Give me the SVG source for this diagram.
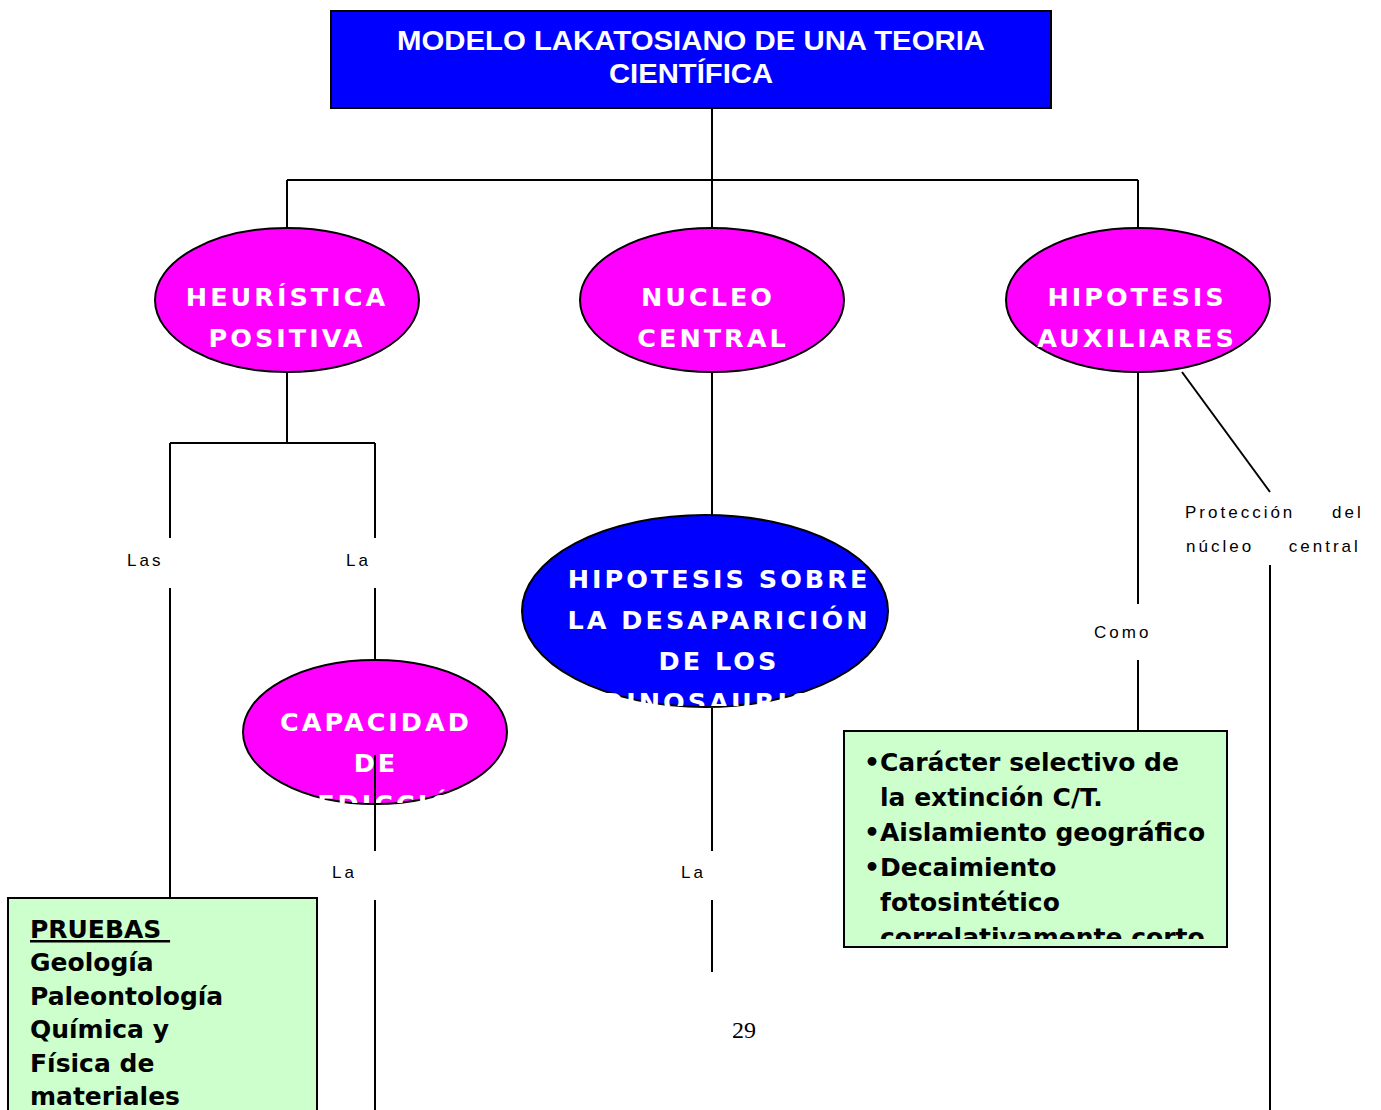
<svg xmlns="http://www.w3.org/2000/svg" width="1381" height="1110" viewBox="0 0 1381 1110">
<style>
.ln{stroke:#000;stroke-width:2;fill:none}
.pink{fill:#FF00FF;stroke:#000;stroke-width:2}
.blue{fill:#0000FF;stroke:#000;stroke-width:2}
.green{fill:#CCFFCC;stroke:#000;stroke-width:2}
.et{font-family:"DejaVu Sans",sans-serif;font-weight:bold;font-size:25.5px;fill:#fff;letter-spacing:3px;text-anchor:middle}
.lbl{font-family:"Liberation Sans",Arial,sans-serif;font-size:17px;fill:#000;letter-spacing:3px}
.gt{font-family:"DejaVu Sans",sans-serif;font-weight:bold;font-size:25px;fill:#000}
.tt{font-family:"Liberation Sans",Arial,sans-serif;font-weight:bold;font-size:28px;fill:#fff;text-anchor:middle}
</style>
<defs>
<clipPath id="clipDino"><rect x="500" y="510" width="400" height="196"/></clipPath>
<clipPath id="clipCap"><rect x="230" y="655" width="290" height="148"/></clipPath>
<clipPath id="clipCar"><rect x="845" y="732" width="381" height="207"/></clipPath>
</defs>
<rect width="1381" height="1110" fill="#fff"/>
<g id="connectors">
<line class="ln" x1="712" y1="108" x2="712" y2="180"/>
<line class="ln" x1="287" y1="180" x2="1138" y2="180"/>
<line class="ln" x1="287" y1="180" x2="287" y2="228"/>
<line class="ln" x1="712" y1="180" x2="712" y2="228"/>
<line class="ln" x1="1138" y1="180" x2="1138" y2="228"/>
<line class="ln" x1="287" y1="372" x2="287" y2="443"/>
<line class="ln" x1="170" y1="443" x2="375" y2="443"/>
<line class="ln" x1="170" y1="443" x2="170" y2="538"/>
<line class="ln" x1="375" y1="443" x2="375" y2="538"/>
<line class="ln" x1="170" y1="588" x2="170" y2="898"/>
<line class="ln" x1="375" y1="588" x2="375" y2="660"/>
<line class="ln" x1="712" y1="372" x2="712" y2="516"/>
<line class="ln" x1="1138" y1="372" x2="1138" y2="604"/>
<line class="ln" x1="1138" y1="660" x2="1138" y2="731"/>
<line class="ln" x1="1182" y1="372" x2="1270" y2="492"/>
<line class="ln" x1="1270" y1="565" x2="1270" y2="1110"/>
<line class="ln" x1="712" y1="708" x2="712" y2="851"/>
<line class="ln" x1="712" y1="900" x2="712" y2="972"/>
<line class="ln" x1="375" y1="900" x2="375" y2="1110"/>
<text class="lbl" x="127" y="566">Las</text>
<text class="lbl" x="346" y="566">La</text>
<text class="lbl" x="332" y="878">La</text>
<text class="lbl" x="681" y="878">La</text>
<text class="lbl" x="1094" y="638">Como</text>
<text class="lbl" x="1185" y="518" word-spacing="29">Protección del</text>
<text class="lbl" x="1186" y="552" word-spacing="27">núcleo central</text>
</g>
<g id="title">
<rect class="blue" x="331" y="11" width="720" height="97"/>
<text class="tt" x="691" y="50" textLength="588" lengthAdjust="spacingAndGlyphs">MODELO LAKATOSIANO DE UNA TEORIA</text>
<text class="tt" x="691" y="83" textLength="164" lengthAdjust="spacingAndGlyphs">CIENTÍFICA</text>
</g>
<g id="heuristica">
<ellipse class="pink" cx="287" cy="300" rx="132" ry="72"/>
<text class="et" x="287" y="306">HEURÍSTICA</text>
<text class="et" x="287" y="347">POSITIVA</text>
</g>
<g id="nucleo">
<ellipse class="pink" cx="712" cy="300" rx="132" ry="72"/>
<text class="et" x="708" y="306">NUCLEO</text>
<text class="et" x="713" y="347">CENTRAL</text>
</g>
<g id="auxiliares">
<ellipse class="pink" cx="1138" cy="300" rx="132" ry="72"/>
<text class="et" x="1137" y="306">HIPOTESIS</text>
<text class="et" x="1137" y="347">AUXILIARES</text>
</g>
<g id="hipotesis-dinosaurios">
<ellipse class="blue" cx="705" cy="611" rx="183" ry="96"/>
<g clip-path="url(#clipDino)">
<text class="et" x="719" y="588">HIPOTESIS SOBRE</text>
<text class="et" x="719" y="629">LA DESAPARICIÓN</text>
<text class="et" x="719" y="670">DE LOS</text>
<text class="et" x="719" y="711">DINOSAURIOS</text>
</g>
</g>
<g id="capacidad">
<ellipse class="pink" cx="375" cy="732" rx="132" ry="72"/>
<g clip-path="url(#clipCap)">
<text class="et" x="376" y="731">CAPACIDAD</text>
<text class="et" x="376" y="772">DE</text>
<text class="et" x="376" y="813">PREDICCIÓN</text>
</g>
<line class="ln" x1="375" y1="755" x2="375" y2="851"/>
</g>
<g id="caracter">
<rect class="green" x="844" y="731" width="383" height="216"/>
<g clip-path="url(#clipCar)">
<text class="gt" x="864" y="771">•Carácter selectivo de</text>
<text class="gt" x="880" y="806">la extinción C/T.</text>
<text class="gt" x="864" y="841">•Aislamiento geográfico</text>
<text class="gt" x="864" y="876">•Decaimiento</text>
<text class="gt" x="880" y="911">fotosintético</text>
<text class="gt" x="880" y="946">correlativamente corto</text>
</g>
</g>
<g id="pruebas">
<rect class="green" x="8" y="898" width="309" height="220"/>
<text class="gt" x="30" y="938" text-decoration="underline">PRUEBAS&#160;</text>
<text class="gt" x="30" y="971">Geología</text>
<text class="gt" x="30" y="1005">Paleontología</text>
<text class="gt" x="30" y="1038">Química y</text>
<text class="gt" x="30" y="1072">Física de</text>
<text class="gt" x="30" y="1105">materiales</text>
</g>
<text x="732" y="1038" font-family="Liberation Serif,Times New Roman,serif" font-size="24" fill="#000">29</text>
</svg>
